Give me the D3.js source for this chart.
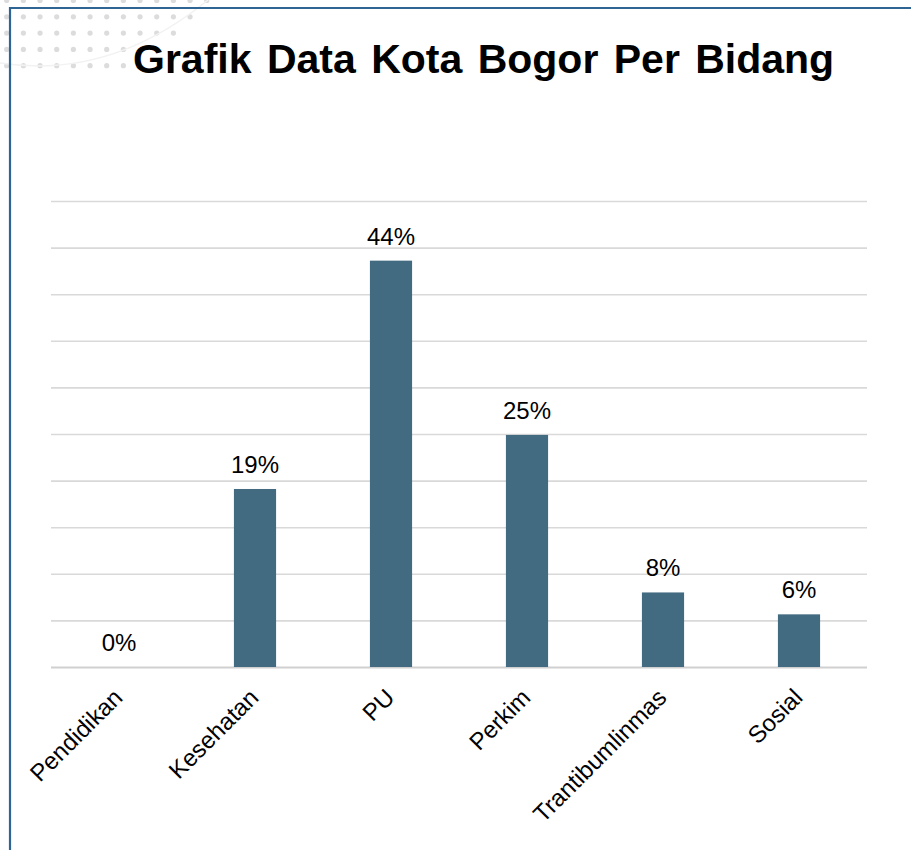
<!DOCTYPE html>
<html>
<head>
<meta charset="utf-8">
<script src="https://cdn.jsdelivr.net/npm/d3@7"></script>
<style>
  body { margin: 0; background: #fff; }
  text { font-family: "Liberation Sans", Arial, sans-serif; fill: #000; }
  .title { font-weight: bold; font-size: 41px; word-spacing: 4px; }
  .value-label { font-size: 24px; }
  .cat-label { font-size: 24px; }
</style>
</head>
<body>
<svg id="chart" width="911" height="850"></svg>
<script>
// data
const categories = ["Pendidikan", "Kesehatan", "PU", "Perkim", "Trantibumlinmas", "Sosial"];
const shares = [0, 19.1, 43.6, 24.9, 8.0, 5.65];
const yTicks = [0, 5, 10, 15, 20, 25, 30, 35, 40, 45, 50];
const chartTitle = "Grafik Data Kota Bogor Per Bidang";

const svg = d3.select("#chart");
const margin = {top: 201, left: 51, right: 44, bottom: 183};
const width = +svg.attr("width");
const height = +svg.attr("height");
const baseY = height - margin.bottom;

// decoration: dot grid in the corner
const deco = svg.append("g").attr("id", "deco");
const dotRows = [13, 12, 11, 8, 8];
dotRows.forEach((n, r) => {
  d3.range(n).forEach(c => {
    deco.append("circle")
      .attr("cx", 6.7 + c * 16.67)
      .attr("cy", 0.5 + r * 16.3)
      .attr("r", 2.6)
      .attr("fill", "#dcdcdc");
  });
});
deco.append("path")
  .attr("d", "M0,63 Q110,80 208,0")
  .attr("fill", "none")
  .attr("stroke", "#f2f2f2")
  .attr("stroke-width", 1.5);

// frame lines
svg.append("line")
  .attr("x1", 10).attr("x2", width).attr("y1", 8).attr("y2", 8)
  .attr("stroke", "#2f6595").attr("stroke-width", 2.2);
svg.append("line")
  .attr("x1", 10).attr("x2", 10).attr("y1", 7).attr("y2", height)
  .attr("stroke", "#2f6595").attr("stroke-width", 2.2);

svg.append("text")
  .attr("class", "title")
  .attr("x", 133)
  .attr("y", 73)
  .text(chartTitle);

// scales
const x = d3.scaleBand()
  .domain(categories)
  .range([margin.left, width - margin.right])
  .paddingInner(0.69)
  .paddingOuter(0.345);
const y = d3.scaleLinear().domain([0, 50]).range([baseY, margin.top]);

// gridlines
const grid = svg.append("g")
  .attr("transform", `translate(${margin.left},0)`)
  .call(d3.axisLeft(y).tickValues(yTicks).tickSize(-(width - margin.left - margin.right)).tickFormat(""));
grid.select(".domain").remove();
grid.selectAll(".tick line")
  .attr("stroke", d => d === 0 ? "#d0d0d0" : "#d9d9d9")
  .attr("stroke-width", d => d === 0 ? 2.2 : 1.6);

const data = categories.map((c, i) => ({cat: c, v: shares[i]}));

// bars
svg.append("g").selectAll("rect")
  .data(data)
  .join("rect")
  .attr("x", d => x(d.cat))
  .attr("width", x.bandwidth())
  .attr("y", d => y(d.v))
  .attr("height", d => baseY - y(d.v))
  .attr("fill", "#426a80");

// value labels
svg.append("g").selectAll("text")
  .data(data)
  .join("text")
  .attr("class", "value-label")
  .attr("text-anchor", "middle")
  .attr("x", d => x(d.cat) + x.bandwidth() / 2)
  .attr("y", d => y(d.v) - 16)
  .text(d => Math.round(d.v) + "%");

// category labels
svg.append("g").selectAll("text")
  .data(categories)
  .join("text")
  .attr("class", "cat-label")
  .attr("text-anchor", "end")
  .attr("transform", d => `translate(${x(d) + x.bandwidth() / 2 + 5},${baseY + 32}) rotate(-45)`)
  .text(d => d);
</script>
</body>
</html>
